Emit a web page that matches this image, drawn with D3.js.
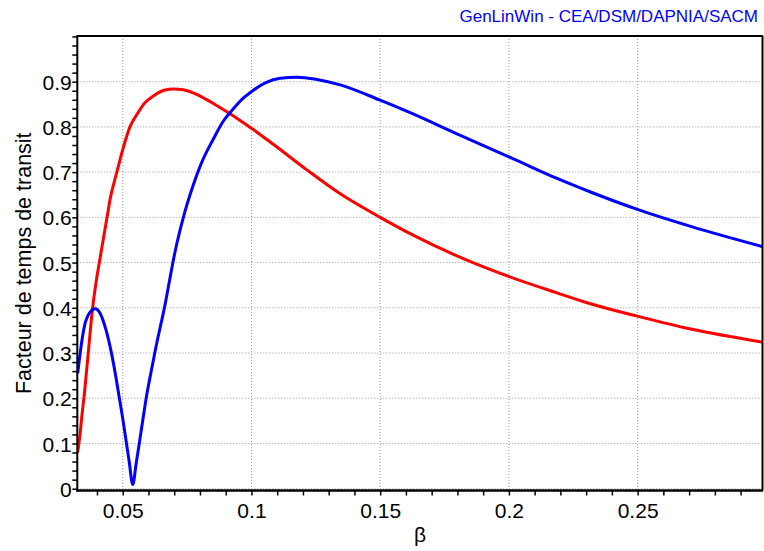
<!DOCTYPE html>
<html>
<head>
<meta charset="utf-8">
<script src="https://cdn.jsdelivr.net/npm/d3@7"></script>
<style>
  html, body { margin: 0; padding: 0; background: #fff; }
  svg { display: block; }
  text { font-family: "Liberation Sans", Arial, sans-serif; }
</style>
</head>
<body>
<svg id="chart" width="764" height="551"></svg>
<script>
// ---- Data ----
const redBeta = [0.0325,0.0334,0.0342,0.0351,0.0366,0.0383,0.0396,0.0409,0.0439,0.0452,0.0477,0.0491,0.0513,0.0528,0.0558,0.0584,0.0623,0.066,0.0698,0.0735,0.0778,0.0817,0.0863,0.0914,0.0956,0.1,0.1086,0.1215,0.1345,0.15,0.163,0.1785,0.1967,0.2187,0.2317,0.2502,0.2706,0.2987];
const redValues = [0.08,0.12,0.165,0.21,0.30,0.40,0.455,0.50,0.60,0.643,0.70,0.731,0.775,0.80,0.83,0.852,0.870,0.881,0.884,0.882,0.874,0.863,0.848,0.830,0.814,0.797,0.761,0.705,0.652,0.600,0.560,0.518,0.476,0.433,0.409,0.381,0.353,0.324];

const blueBeta = [0.0325,0.0338,0.0351,0.037,0.0393,0.0412,0.0435,0.0455,0.0474,0.0487,0.0500,0.0512,0.0525,0.0539,0.0552,0.0565,0.0578,0.0591,0.061,0.063,0.0649,0.0662,0.0681,0.0701,0.0736,0.0772,0.0811,0.085,0.0889,0.0928,0.0967,0.1,0.1056,0.1112,0.1177,0.1254,0.1345,0.15,0.163,0.1785,0.1967,0.2003,0.2187,0.2317,0.2502,0.2706,0.2987];
const blueValues = [0.255,0.314,0.359,0.388,0.398,0.388,0.351,0.303,0.245,0.200,0.155,0.110,0.060,0.009,0.055,0.103,0.152,0.200,0.258,0.316,0.366,0.400,0.458,0.518,0.601,0.668,0.727,0.771,0.8115,0.839,0.863,0.878,0.898,0.9075,0.910,0.905,0.893,0.859,0.828,0.788,0.742,0.733,0.686,0.656,0.617,0.580,0.535];

const xTickValues = [0.05, 0.1, 0.15, 0.2, 0.25];
const xTickLabels = ["0.05", "0.1", "0.15", "0.2", "0.25"];
const yTickValues = [0, 0.1, 0.2, 0.3, 0.4, 0.5, 0.6, 0.7, 0.8, 0.9];
const yTickLabels = ["0", "0.1", "0.2", "0.3", "0.4", "0.5", "0.6", "0.7", "0.8", "0.9"];
const xMinorTicks = d3.range(4, 30).map(i => i / 100);
const yMinorTicks = d3.range(0, 51).map(i => i / 50);

const titleText = "GenLinWin - CEA/DSM/DAPNIA/SACM";
const xTitle = "β";
const yTitle = "Facteur de temps de transit";

// ---- Layout ----
const L = 77.3, R = 763, T = 36, B = 490.5;
const svg = d3.select("#chart");

const x = d3.scaleLinear().domain([0.03235, 0.2987]).range([L, R]);
const y = d3.scaleLinear().domain([-0.004, 1.001]).range([B, T]);

// gridlines
const grid = svg.append("g");
grid.selectAll("line.vg").data(xTickValues).enter().append("line")
  .attr("x1", d => x(d)).attr("x2", d => x(d))
  .attr("y1", T).attr("y2", B)
  .attr("stroke", "#999").attr("stroke-width", 1).attr("stroke-dasharray", "1,2");
grid.selectAll("line.hg").data(yTickValues).enter().append("line")
  .attr("x1", L).attr("x2", R)
  .attr("y1", d => y(d)).attr("y2", d => y(d))
  .attr("stroke", "#999").attr("stroke-width", 1).attr("stroke-dasharray", "1,2");

// clip
svg.append("clipPath").attr("id", "clip").append("rect")
  .attr("x", L).attr("y", T).attr("width", R - L).attr("height", B - T);

const line = d3.line().x(d => x(d[0])).y(d => y(d[1])).curve(d3.curveMonotoneX);
const redData = redBeta.map((b, i) => [b, redValues[i]]);
const blueData = blueBeta.map((b, i) => [b, blueValues[i]]);

const curves = svg.append("g").attr("clip-path", "url(#clip)");
curves.append("path").datum(redData).attr("d", line)
  .attr("fill", "none").attr("stroke", "#ff0000").attr("stroke-width", 3).attr("stroke-linejoin", "round");
curves.append("path").datum(blueData).attr("d", line)
  .attr("fill", "none").attr("stroke", "#0000ff").attr("stroke-width", 3).attr("stroke-linejoin", "round");

// frame (top & right)
svg.append("line").attr("x1", L).attr("x2", R).attr("y1", T).attr("y2", T).attr("stroke", "#000").attr("stroke-width", 2);
svg.append("line").attr("x1", R - 0.5).attr("x2", R - 0.5).attr("y1", T).attr("y2", B).attr("stroke", "#000").attr("stroke-width", 2);

// x axis
const xAxis = d3.axisBottom(x).tickValues(xMinorTicks).tickSize(5).tickFormat("");
const gx = svg.append("g").attr("transform", `translate(0,${B})`).call(xAxis);
gx.select(".domain").remove();
gx.selectAll(".tick line").attr("stroke", "#000").attr("stroke-width", 1.5);
svg.append("line").attr("x1", L - 1).attr("x2", R).attr("y1", B).attr("y2", B).attr("stroke", "#000").attr("stroke-width", 2.5);

const xLab = d3.axisBottom(x).tickValues(xTickValues).tickSize(0)
  .tickFormat((d, i) => xTickLabels[i]);
const gxl = svg.append("g").attr("transform", `translate(0,${B})`).call(xLab);
gxl.select(".domain").remove();
gxl.selectAll(".tick text").attr("y", 0).attr("dy", "27.5px")
  .attr("font-size", "21px").attr("fill", "#000")
  .style("font-family", '"Liberation Sans", Arial, sans-serif');

// y axis
const yAxis = d3.axisLeft(y).tickValues(yMinorTicks).tickSize(5).tickFormat("");
const gy = svg.append("g").attr("transform", `translate(${L},0)`).call(yAxis);
gy.select(".domain").remove();
gy.selectAll(".tick line").attr("stroke", "#000").attr("stroke-width", 1.5);
svg.append("line").attr("x1", L).attr("x2", L).attr("y1", T - 1).attr("y2", B + 1).attr("stroke", "#000").attr("stroke-width", 2);

const yLab = d3.axisLeft(y).tickValues(yTickValues).tickSize(0)
  .tickFormat((d, i) => yTickLabels[i]);
const gyl = svg.append("g").attr("transform", `translate(${L},0)`).call(yLab);
gyl.select(".domain").remove();
gyl.selectAll(".tick text").attr("x", -5.5).attr("dy", "0.36em")
  .attr("font-size", "21px").attr("fill", "#000")
  .style("font-family", '"Liberation Sans", Arial, sans-serif');

// titles
svg.append("text").attr("x", 758).attr("y", 21.5).attr("text-anchor", "end")
  .attr("font-size", "17px").attr("fill", "#0000ff").text(titleText);

svg.append("text").attr("x", (L + R) / 2).attr("y", 542).attr("text-anchor", "middle")
  .attr("font-size", "21px").attr("fill", "#000").text(xTitle);

svg.append("text").attr("transform", `translate(31,${(T + B) / 2}) rotate(-90)`)
  .attr("text-anchor", "middle").attr("font-size", "21.5px").attr("fill", "#000").text(yTitle);
</script>
</body>
</html>
